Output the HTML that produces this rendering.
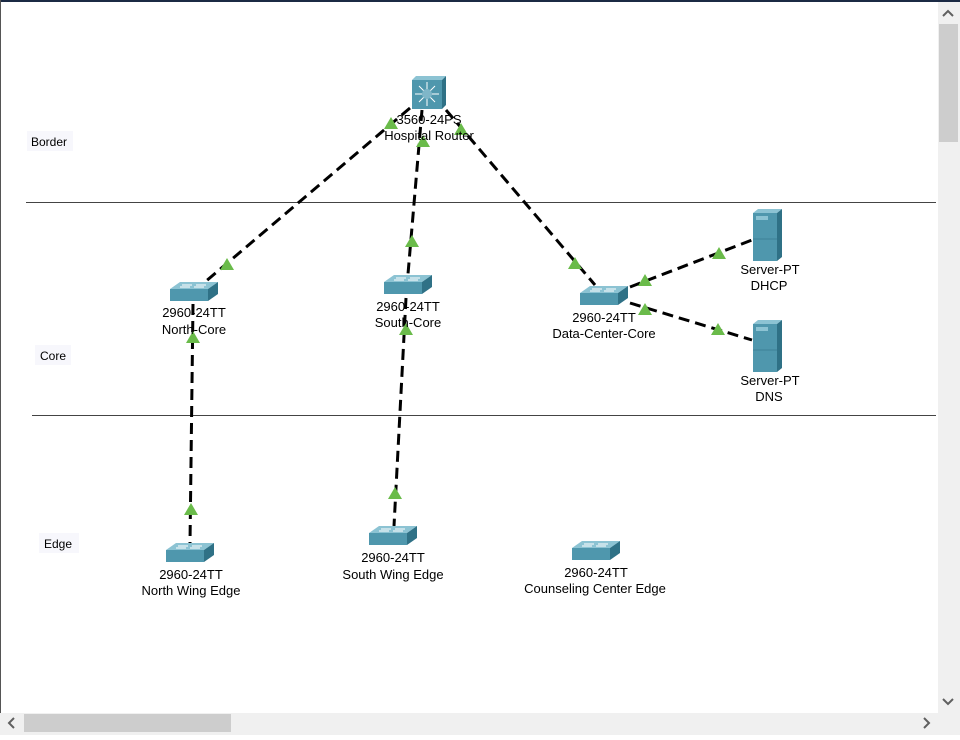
<!DOCTYPE html>
<html><head><style>
body{margin:0;width:960px;height:735px;overflow:hidden;background:#fff;font-family:"Liberation Sans",sans-serif}
</style></head><body>
<svg width="960" height="735" xmlns="http://www.w3.org/2000/svg" font-family="Liberation Sans, sans-serif" font-size="13">
<defs>
<g id="sw">
<polygon points="-24,-4 -14,-11 24,-11 14,-4" fill="#8cc3d3"/>
<polygon points="-24,-4 14,-4 14,8 -24,8" fill="#4f97ad"/>
<polygon points="14,-4 24,-11 24,1 14,8" fill="#2f7186"/>
<line x1="-12" y1="-8" x2="-2" y2="-8" stroke="#fff" stroke-width="1"/>
<line x1="2" y1="-8" x2="12" y2="-8" stroke="#fff" stroke-width="1"/>
<line x1="-14" y1="-6" x2="-4" y2="-6" stroke="#fff" stroke-width="1"/>
<line x1="0" y1="-6" x2="10" y2="-6" stroke="#fff" stroke-width="1"/>
</g>
<g id="srv">
<rect x="0" y="4" width="24" height="48" fill="#4f97ad"/>
<polygon points="0,4 5,0 29,0 24,4" fill="#8cc3d3"/>
<polygon points="24,4 29,0 29,48 24,52" fill="#2f7186"/>
<rect x="3" y="7" width="12" height="4" fill="#8cc3d3"/>
<line x1="0" y1="30" x2="24" y2="30" stroke="#3d8196"/>
</g>
<polygon id="tri" points="0,-7 7,5 -7,5" fill="#6abb4a"/>
</defs>
<rect x="0" y="0" width="960" height="2" fill="#1b2a44"/>
<rect x="0" y="0" width="1" height="735" fill="#555"/>
<line x1="26" y1="202.5" x2="936" y2="202.5" stroke="#444"/>
<line x1="32" y1="415.5" x2="936" y2="415.5" stroke="#444"/>
<rect x="27" y="131" width="46" height="20" fill="#f7f7fc"/>
<text x="31" y="146" font-size="12">Border</text>
<rect x="35" y="345" width="36" height="20" fill="#f7f7fc"/>
<text x="40" y="360" font-size="12">Core</text>
<rect x="39" y="533" width="40" height="20" fill="#f7f7fc"/>
<text x="44" y="548" font-size="12">Edge</text>
<g stroke="#000" stroke-width="3" stroke-dasharray="11,6" fill="none">
<line x1="410" y1="108" x2="205" y2="282"/>
<line x1="422" y1="110" x2="408" y2="274"/>
<line x1="446" y1="110" x2="595" y2="285"/>
<line x1="630" y1="287" x2="752" y2="240"/>
<line x1="630" y1="303" x2="752" y2="340"/>
<line x1="193" y1="304" x2="190" y2="543"/>
<line x1="406" y1="298" x2="394" y2="526"/>
</g>
<use href="#tri" x="391" y="124"/>
<use href="#tri" x="227" y="265"/>
<use href="#tri" x="423" y="142"/>
<use href="#tri" x="412" y="242"/>
<use href="#tri" x="461" y="130"/>
<use href="#tri" x="575" y="264"/>
<use href="#tri" x="645" y="281"/>
<use href="#tri" x="719" y="254"/>
<use href="#tri" x="645" y="310"/>
<use href="#tri" x="718" y="330"/>
<use href="#tri" x="193" y="338"/>
<use href="#tri" x="191" y="510"/>
<use href="#tri" x="406" y="330"/>
<use href="#tri" x="395" y="494"/>
<rect x="412" y="80" width="30" height="29" fill="#4f97ad"/>
<polygon points="412,80 416,76 446,76 442,80" fill="#8cc3d3"/>
<polygon points="442,80 446,76 446,105 442,109" fill="#2f7186"/>
<g stroke="#fff" stroke-width="1"><line x1="427" y1="82" x2="427" y2="106"/><line x1="415" y1="94" x2="439" y2="94"/><line x1="419" y1="86" x2="435" y2="102"/><line x1="435" y1="86" x2="419" y2="102"/></g>
<circle cx="427" cy="94" r="5" fill="#7fb6c8"/>
<g text-anchor="middle">
<text x="429" y="124">3560-24PS</text><text x="429" y="140">Hospital Router</text>
<use href="#sw" x="194" y="293"/>
<text x="194" y="317">2960-24TT</text><text x="194" y="334">North-Core</text>
<use href="#sw" x="408" y="286"/>
<text x="408" y="311">2960-24TT</text><text x="408" y="327">South-Core</text>
<use href="#sw" x="604" y="297"/>
<text x="604" y="322">2960-24TT</text><text x="604" y="338">Data-Center-Core</text>
<use href="#srv" x="753" y="209"/>
<text x="770" y="274">Server-PT</text><text x="769" y="290">DHCP</text>
<use href="#srv" x="753" y="320"/>
<text x="770" y="385">Server-PT</text><text x="769" y="401">DNS</text>
<use href="#sw" x="190" y="554"/>
<text x="191" y="579">2960-24TT</text><text x="191" y="595">North Wing Edge</text>
<use href="#sw" x="393" y="537"/>
<text x="393" y="562">2960-24TT</text><text x="393" y="579">South Wing Edge</text>
<use href="#sw" x="596" y="552"/>
<text x="596" y="577">2960-24TT</text><text x="595" y="593">Counseling Center Edge</text>
</g>
<rect x="938" y="2" width="22" height="711" fill="#f0f0f0"/>
<rect x="939" y="24" width="19" height="118" fill="#cdcdcd"/>
<path d="M943 16 L948 11 L953 16" stroke="#606060" stroke-width="2" fill="none"/>
<path d="M943 699 L948 704 L953 699" stroke="#606060" stroke-width="2" fill="none"/>
<rect x="0" y="713" width="960" height="22" fill="#f0f0f0"/>
<rect x="24" y="714" width="207" height="18" fill="#cdcdcd"/>
<path d="M14 718 L9 723 L14 728" stroke="#606060" stroke-width="2" fill="none"/>
<path d="M924 718 L929 723 L924 728" stroke="#606060" stroke-width="2" fill="none"/>
</svg>
</body></html>
